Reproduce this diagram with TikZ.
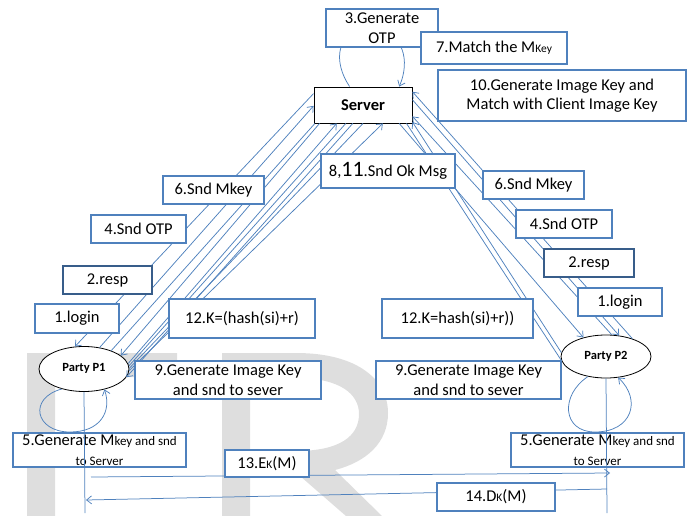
\documentclass[tikz,border=0pt]{standalone}
\usepackage{fontspec}
\setmainfont{Carlito}
\usetikzlibrary{arrows.meta,shapes.geometric}
\definecolor{boxblue}{RGB}{79,129,189}
\definecolor{darkblue}{RGB}{56,93,138}
\tikzset{msg/.style={draw=boxblue, line width=1.5pt, fill=white, align=center, inner sep=1pt, font=\fontsize{16.5}{19.5}\selectfont}}
\tikzset{party/.style={ellipse, draw, fill=white, line width=0.8pt, inner sep=0pt, font=\fontsize{12.5}{14}\selectfont\bfseries}}
\tikzset{srv/.style={rectangle, draw, fill=white, line width=0.9pt, font=\fontsize{16.5}{19}\selectfont\bfseries}}
\tikzset{wire/.style={draw=boxblue, line width=0.75pt}, >={Straight Barb[length=5pt,width=8pt]}}
\newcommand{\smtxt}[1]{{\fontsize{13}{15}\selectfont #1}}
\newcommand{\tinytxt}[1]{{\fontsize{11.5}{13}\selectfont #1}}

\begin{document}
\begin{tikzpicture}[x=1pt,y=-1pt]
  \useasboundingbox (0,0) rectangle (690,516);
  \begin{scope}
    \clip (0,0) rectangle (690,516);
    \fill[black!13] (27,353) rectangle (55,516) (27,353) rectangle (177,377);
    \fill[black!13, even odd rule] (222,516) -- (222,353) -- (296,353)
      .. controls (358,353) and (388,380) .. (388,413)
      .. controls (388,443) and (366,462) .. (335,470) -- (382,516) -- (346,516)
      -- (300,476) -- (250,476) -- (250,516) -- cycle
      (250,378) -- (296,378) .. controls (340,378) and (359,394) .. (359,414)
      .. controls (359,436) and (340,451) .. (296,451) -- (250,451) -- cycle;
  \end{scope}

  \node[srv, minimum width=98pt, minimum height=36pt] (server) at (363,105) {Server};
  \node[party, minimum width=90pt, minimum height=45pt] (p1) at (84,369) {\raisebox{3pt}{Party P1}};
  \node[party, minimum width=90pt, minimum height=43pt] (p2) at (606,356.5) {\raisebox{2pt}{Party P2}};
  \coordinate (p1low) at (85,513);
  \coordinate (p2low) at (607,513);
  \coordinate (e13a) at (91,477);
  \coordinate (e13b) at (610,473);
  \coordinate (d14a) at (607,489);
  \coordinate (d14b) at (86,500);

  \draw[wire,->] (server.126) .. controls (333,62) and (335,30) .. (370,30)
    .. controls (405,30) and (410,62) .. (server.27);
  \draw[wire,->] (p1.222) .. controls (28,398) and (35,432) .. (70,432)
    .. controls (100,432) and (112,412) .. (p1.315);
  \draw[wire,->] (p2.228) .. controls (560,395) and (562,432) .. (595,432)
    .. controls (632,432) and (642,400) .. (p2.300);

  \draw[wire] (p1.112) edge[<-] (server.167)
  (p1.54) edge[->] (server.181)
  (p1.34) edge (server.201)
  (p1.20) edge[<-] (server.203)
  (p1.7) edge[->] (server.215)
  (p1.4) edge (server.227)
  (p1.349) edge[<-] (server.241)
  (p1.1) edge (server.270)
  (p1.358) edge[->] (server.317)
  (p2.34) edge[->] (server.15)
  (p2.58) edge[<-] (server.6)
  (p2.75) edge[->] (server.347)
  (p2.175) edge[->] (server.341)
  (p2.140) edge[<-] (server.333)
  (p2.185) edge (server.337)
  ;
  \draw[wire,->] (e13a) -- (e13b);
  \draw[wire,->] (d14a) -- (d14b);

  \node[msg, minimum width=112pt, minimum height=38pt] (gen3) at (382,28) {3.Generate\\OTP};
  \node[msg, minimum width=146pt, minimum height=32pt] (match7) at (494,48) {7.Match the M\tinytxt{Key}};
  \node[msg, minimum width=248pt, minimum height=51pt] (gen10) at (562,95.5) {10.Generate Image Key and\\Match with Client Image Key};
  \node[msg, minimum width=134pt, minimum height=34pt] (ok811) at (388,171) {8,{\fontsize{22}{22}\selectfont 11}.Snd Ok Msg};

  \node[msg, minimum width=101pt, minimum height=28pt] (mkeyL) at (213.5,190) {6.Snd Mkey};
  \node[msg, minimum width=95pt, minimum height=28pt] (otpL) at (138.5,229) {4.Snd OTP};
  \node[msg, draw=darkblue, minimum width=89pt, minimum height=28pt] (respL) at (107.5,280) {2.resp};
  \node[msg, minimum width=84pt, minimum height=29pt] (loginL) at (77,318.5) {1.login};
  \node[msg, minimum width=146pt, minimum height=39pt] (keyL) at (242,318.5) {12.K=(hash(si)+r)};
  \node[msg, minimum width=186pt, minimum height=38pt] (imgL) at (228,380) {9.Generate Image Key\\and snd to sever};
  \node[msg, minimum width=173pt, minimum height=34pt] (genL) at (99.5,450) {5.Generate M\smtxt{key and snd}\\\smtxt{to Server}};
  \node[msg, minimum width=84pt, minimum height=27pt] (enc13) at (267,463.5) {13.E\tinytxt{K}(M)};

  \node[msg, minimum width=101pt, minimum height=28pt] (mkeyR) at (533.5,185) {6.Snd Mkey};
  \node[msg, minimum width=96pt, minimum height=28pt] (otpR) at (564,224) {4.Snd OTP};
  \node[msg, draw=darkblue, minimum width=90pt, minimum height=28pt] (respR) at (589,263) {2.resp};
  \node[msg, minimum width=84pt, minimum height=28pt] (loginR) at (620,302) {1.login};
  \node[msg, minimum width=151pt, minimum height=39pt] (keyR) at (457.5,318.5) {12.K=hash(si)+r))};
  \node[msg, minimum width=185pt, minimum height=38pt] (imgR) at (468.5,380) {9.Generate Image Key\\and snd to sever};
  \node[msg, minimum width=173pt, minimum height=34pt] (genR) at (597.5,450) {5.Generate M\smtxt{key and snd}\\\smtxt{to Server}};
  \node[msg, minimum width=118pt, minimum height=28pt] (dec14) at (496,497) {14.D\tinytxt{K}(M)};

  \draw[wire] (p1.south) -- (p1low);
  \draw[wire] (p2.south) -- (p2low);
\end{tikzpicture}
\end{document}
